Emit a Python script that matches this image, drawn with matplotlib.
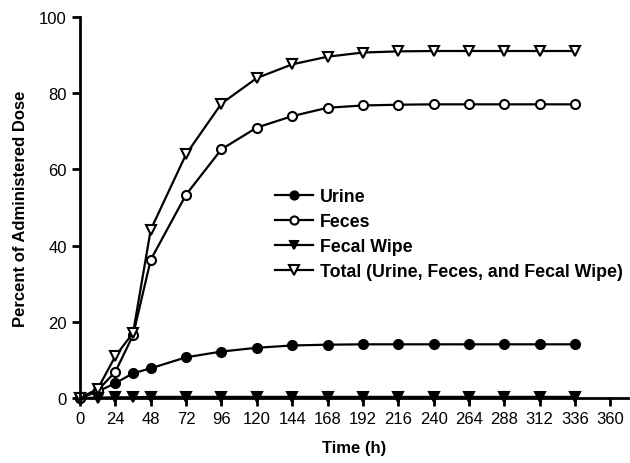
import matplotlib.pyplot as plt

plt.rcParams['font.family'] = ['Liberation Sans', 'DejaVu Sans']

# Data
time_h = [0, 12, 24, 36, 48, 72, 96, 120, 144, 168, 192, 216, 240, 264, 288, 312, 336]
urine = [0, 1.7, 3.9, 6.5, 7.8, 10.7, 12.2, 13.2, 13.8, 14.0, 14.1, 14.1, 14.1, 14.1, 14.1, 14.1, 14.1]
feces = [0, 2.0, 6.9, 16.5, 36.3, 53.4, 65.3, 71.0, 74.0, 76.2, 76.8, 77.0, 77.1, 77.1, 77.1, 77.1, 77.1]
fecal_wipe = [0, 0.1, 0.2, 0.2, 0.3, 0.3, 0.3, 0.3, 0.3, 0.3, 0.3, 0.3, 0.3, 0.3, 0.3, 0.3, 0.3]
total = [0, 2.4, 11.0, 17.1, 44.2, 64.0, 77.3, 84.0, 87.6, 89.6, 90.7, 91.0, 91.1, 91.1, 91.1, 91.1, 91.1]

xticks = list(range(0, 361, 24))
yticks = [0, 20, 40, 60, 80, 100]

fig = plt.figure(figsize=(6.3, 4.64), dpi=100)
ax = fig.add_axes([0.127, 0.140, 0.87, 0.821])

kw = dict(color='black', linewidth=1.6, markeredgewidth=1.5, clip_on=False)
ax.plot(time_h, urine, marker='o', markersize=6.5, markerfacecolor='black', label='Urine', **kw)
ax.plot(time_h, feces, marker='o', markersize=6.5, markerfacecolor='white', label='Feces', **kw)
ax.plot(time_h, fecal_wipe, marker='v', markersize=7, markerfacecolor='black', label='Fecal Wipe', **kw)
ax.plot(time_h, total, marker='v', markersize=7.5, markerfacecolor='white',
        label='Total (Urine, Feces, and Fecal Wipe)', **kw)

ax.set_xlim(0, 372)
ax.set_ylim(0, 100)
ax.set_xticks(xticks)
ax.set_yticks(yticks)

for side in ['top', 'right']:
    ax.spines[side].set_visible(False)
for side in ['left', 'bottom']:
    ax.spines[side].set_linewidth(2)
ax.tick_params(width=2, length=6, labelsize=12)

ax.set_xlabel('Time (h)', fontsize=12, fontweight='bold', labelpad=10)
ax.set_ylabel('Percent of Administered Dose', fontsize=12, fontweight='bold', labelpad=8)

leg = ax.legend(loc='upper left', bbox_to_anchor=(0.34, 0.575), frameon=False,
                prop={'weight': 'bold', 'size': 12.8}, handlelength=2.1,
                handletextpad=0.4, labelspacing=0.45, borderpad=0, markerscale=0.9)

fig.savefig('out.png', dpi=100)
